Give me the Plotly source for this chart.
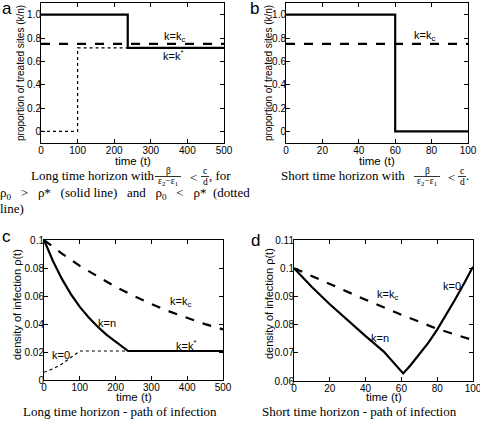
import plotly.graph_objects as go

# ---------------- data ----------------
# Panel a: proportion of treated sites, long horizon
a_solid_t = [0, 237, 237, 500]
a_solid_k = [1.0, 1.0, 0.715, 0.715]
a_dotted_t = [0, 100, 100, 237]
a_dotted_k = [0.0, 0.0, 0.715, 0.715]
a_dash_t = [0, 500]
a_dash_k = [0.75, 0.75]

# Panel b: short horizon
b_solid_t = [0, 60, 60, 100]
b_solid_k = [1.0, 1.0, 0.0, 0.0]
b_dash_t = [0, 100]
b_dash_k = [0.75, 0.75]

# Panel c: density of infection, long horizon
c_dash_t = [0, 50, 100, 150, 200, 250, 300, 350, 400, 450, 500]
c_dash_rho = [0.1, 0.0903, 0.0815, 0.0737, 0.0665, 0.0601, 0.0542, 0.0490, 0.0442, 0.0399, 0.0362]
c_solid_t = [0, 25, 50, 75, 100, 125, 150, 175, 200, 220, 235, 500]
c_solid_rho = [0.1, 0.0850, 0.0722, 0.0613, 0.0522, 0.0446, 0.0380, 0.0322, 0.0274, 0.0237, 0.0207, 0.0207]
c_dot_t = [0, 25, 50, 75, 100, 235]
c_dot_rho = [0.0055, 0.0080, 0.0114, 0.0158, 0.0207, 0.0207]

# Panel d: short horizon
d_dash_t = [0, 20, 40, 60, 80, 100]
d_dash_rho = [0.1, 0.0943, 0.0888, 0.0835, 0.0785, 0.0745]
d_solid_t = [0, 10, 20, 30, 40, 50, 61, 65, 70, 75, 80, 85, 90, 95, 100]
d_solid_rho = [0.1, 0.0933, 0.0872, 0.0814, 0.0759, 0.0705, 0.0627,
               0.0655, 0.0693, 0.0735, 0.0782, 0.0834, 0.0889, 0.0946, 0.1005]

# axis titles
x_title = "time (t)"
ya_title = "proportion of treated sites (k/n)"
yc_title = "density of infection ρ(t)"

# ---------------- figure ----------------
W, H = 480, 423
def px(x0, x1):
    return [x0 / W, x1 / W]
def py(top, bottom):
    return [1 - bottom / H, 1 - top / H]

fig = go.Figure()
LW = 2.2
black = "black"

def line(x, y, xa, ya, dash="solid", width=LW):
    fig.add_trace(go.Scatter(x=x, y=y, mode="lines", xaxis=xa, yaxis=ya,
                             line=dict(color=black, width=width, dash=dash),
                             showlegend=False, hoverinfo="skip"))

line(a_dash_t, a_dash_k, "x", "y", dash="dash")
line(a_dotted_t, a_dotted_k, "x", "y", dash="dot", width=1.2)
line(a_solid_t, a_solid_k, "x", "y")

line(b_dash_t, b_dash_k, "x2", "y2", dash="dash")
line(b_solid_t, b_solid_k, "x2", "y2")

line(c_dash_t, c_dash_rho, "x3", "y3", dash="dash")
line(c_dot_t, c_dot_rho, "x3", "y3", dash="dot", width=1.2)
line(c_solid_t, c_solid_rho, "x3", "y3")

line(d_dash_t, d_dash_rho, "x4", "y4", dash="dash")
line(d_solid_t, d_solid_rho, "x4", "y4")

SANS = "Liberation Sans, Arial, sans-serif"
tickfont = dict(family=SANS, size=10, color="black")

def axis(domain, rng, tickvals, ticktext=None, anchor=None, lso=0):
    d = dict(domain=domain, range=rng, tickvals=tickvals, ticks="inside", ticklen=4,
             tickcolor=black, showline=True, linecolor=black, linewidth=1, mirror="ticks",
             showgrid=False, zeroline=False, tickfont=tickfont, anchor=anchor,
             automargin=False, ticklabeloverflow="allow", ticklabelstandoff=lso)
    if ticktext is not None:
        d["ticktext"] = ticktext
    return d

ya_ticks = [0, 0.2, 0.4, 0.6, 0.8, 1.0]
ya_text = ["0", "0.2", "0.4", "0.6", "0.8", "1.0"]
XL, YL = -2, -3

fig.update_layout(
    width=W, height=H, margin=dict(l=0, r=0, t=0, b=0, autoexpand=False),
    paper_bgcolor="white", plot_bgcolor="white",
    xaxis=axis(px(41, 224), [0, 500], [0, 100, 200, 300, 400, 500], anchor="y", lso=XL),
    yaxis=axis(py(3, 143), [-0.1, 1.1], ya_ticks, ya_text, anchor="x", lso=YL),
    xaxis2=axis(px(286, 468), [0, 100], [0, 20, 40, 60, 80, 100], anchor="y2", lso=XL),
    yaxis2=axis(py(3, 143), [-0.1, 1.1], ya_ticks, ya_text, anchor="x2", lso=YL),
    xaxis3=axis(px(44, 223), [0, 500], [0, 100, 200, 300, 400, 500], anchor="y3", lso=XL),
    yaxis3=axis(py(240, 380), [0, 0.1], [0, 0.02, 0.04, 0.06, 0.08, 0.1],
                ["0", "0.02", "0.04", "0.06", "0.08", "0.1"], anchor="x3", lso=YL),
    xaxis4=axis(px(294, 473), [0, 100], [0, 20, 40, 60, 80, 100], anchor="y4", lso=XL),
    yaxis4=axis(py(240, 381), [0.06, 0.11], [0.06, 0.07, 0.08, 0.09, 0.1, 0.11],
                ["0.06", "0.07", "0.08", "0.09", "0.1", "0.11"], anchor="x4", lso=YL),
)

def ptext(x, y, t, font, anchor="left", angle=0):
    fig.add_annotation(x=x / W, y=1 - y / H, xref="paper", yref="paper", text=t,
                       showarrow=False, font=font, xanchor=anchor, yanchor="middle",
                       borderpad=0, borderwidth=0, textangle=angle)

# axis titles as positioned text
xt = dict(family=SANS, size=11.5, color="black")
for cx, cy in [(132.5, 161), (377, 161), (133.5, 396.5), (383.5, 396.5)]:
    ptext(cx, cy, x_title, xt, "center")
ptext(20, 73, ya_title, dict(family=SANS, size=10, color="black"), "center", -90)
ptext(268, 73, ya_title, dict(family=SANS, size=10, color="black"), "center", -90)
ptext(17, 305, yc_title, dict(family=SANS, size=11, color="black"), "center", -90)
ptext(269, 304, yc_title, dict(family=SANS, size=11, color="black"), "center", -90)

lab = dict(family=SANS, size=11, color="black")
def note(x, y, text, xa, ya):
    fig.add_annotation(x=x, y=y, text=text, xref=xa, yref=ya, showarrow=False, font=lab)

note(365, 0.81, "k=k<sub>c</sub>", "x", "y")
note(360, 0.655, "k=k<sup>*</sup>", "x", "y")
note(76, 0.82, "k=k<sub>c</sub>", "x2", "y2")
note(380, 0.056, "k=k<sub>c</sub>", "x3", "y3")
note(176, 0.0405, "k=n", "x3", "y3")
note(398, 0.025, "k=k<sup>*</sup>", "x3", "y3")
note(48, 0.018, "k=0", "x3", "y3")
note(52, 0.0905, "k=k<sub>c</sub>", "x4", "y4")
note(48, 0.0752, "k=n", "x4", "y4")
note(88, 0.0938, "k=0", "x4", "y4")

# panel letters
pl = dict(family=SANS, size=17, color="black")
for x, y, t in [(7, 8, "a"), (254, 8, "b"), (6, 236, "c"), (255, 240, "d")]:
    ptext(x, y, t, pl, "center")

# captions (serif, with stacked fractions)
SERIF = "Liberation Serif, DejaVu Serif, serif"
cf = dict(family=SERIF, size=13, color="black")
small = dict(family=SERIF, size=9.5, color="black")

def stacked(cx, y, num, den, half):
    ptext(cx, y - 5.5, num, small, "center")
    ptext(cx, y + 6, den, small, "center")
    fig.add_shape(type="line", xref="paper", yref="paper",
                  x0=(cx - half) / W, x1=(cx + half) / W,
                  y0=1 - (y + 0.5) / H, y1=1 - (y + 0.5) / H,
                  line=dict(color="black", width=0.8))

den = "ε<sub>2</sub>−ε<sub>1</sub>"
nb = "\u00a0"
g = nb * 3
# panel a caption
ya1 = 176
ptext(31, ya1, "Long time horizon with", cf)
stacked(168, ya1, "β", den, 13)
ptext(193, ya1 + 1, "<", cf, "center")
stacked(205, ya1, "c", "d", 4)
ptext(209, ya1, ", for", cf)
ptext(0, 193, "ρ<sub>0</sub>" + g + ">" + g + "ρ*" + g + "(solid" + nb + "line)" + g
      + "and" + g + "ρ<sub>0</sub>" + g + "<" + g + "ρ*" + nb * 2 + "(dotted", cf)
ptext(0, 209, "line)", cf)
# panel b caption
ptext(281, ya1, "Short time horizon with", cf)
stacked(427, ya1, "β", den, 13)
ptext(451, ya1 + 1, "<", cf, "center")
stacked(462, ya1, "c", "d", 4)
ptext(466, ya1, ".", cf)
# bottom captions
ptext(23, 411, "Long time horizon - path of infection", cf)
ptext(262, 411, "Short time horizon - path of infection", cf)

fig.write_html("out.html", post_script="document.body.style.margin='0px';",
               config={"displayModeBar": False})
